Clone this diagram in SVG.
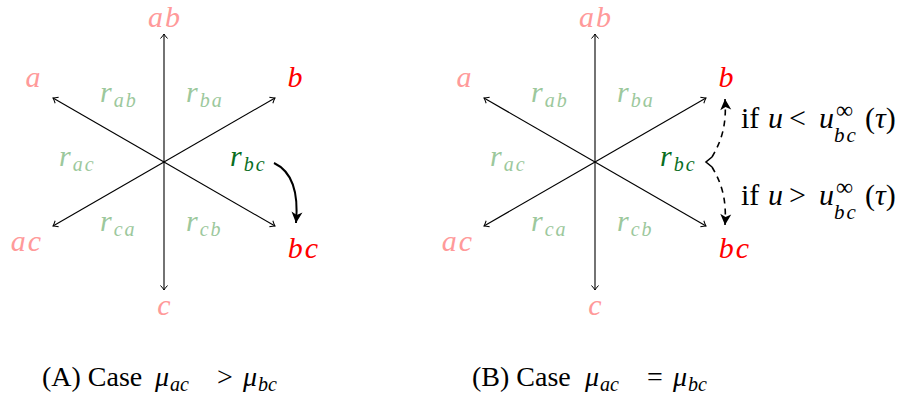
<svg xmlns="http://www.w3.org/2000/svg" width="907" height="401" viewBox="0 0 907 401" font-family="'Liberation Serif', serif">
<style>
.ax{stroke:#000;stroke-width:1.1;fill:none;marker-end:url(#op)}
.m{font-style:italic;font-size:30px;letter-spacing:2px}
.mid{text-anchor:middle}
.pk{fill:#ff9a9a}
.rd{fill:#ff0000}
.lg{fill:#9cc89c}
.dg{fill:#0a6e1e}
.sub{font-size:20px;letter-spacing:2px}
.t{font-size:30px;fill:#000}
.c{font-size:28px;fill:#000}
.i{font-style:italic}
.s{font-size:20px}
.inf{font-size:24px}
.bs{font-size:21px;font-style:italic;letter-spacing:2px}
</style>
<defs>
<marker id="op" markerUnits="userSpaceOnUse" markerWidth="12" markerHeight="12" viewBox="-6 -6 12 12" refX="0" refY="0" orient="auto">
<path d="M-4.5,-3.5 Q-1.5,-0.8 0,0 Q-1.5,0.8 -4.5,3.5" fill="none" stroke="#000" stroke-width="1"/>
</marker>
<marker id="st" markerUnits="userSpaceOnUse" markerWidth="16" markerHeight="16" viewBox="-12 -8 16 16" refX="0" refY="0" orient="auto">
<path d="M0,0 L-11,-5.5 L-8,0 L-11,5.5 Z" fill="#000"/>
</marker>
</defs>
<rect width="907" height="401" fill="#fff"/>

<g id="connectors">
<g id="axesA">
<line class="ax" x1="164" y1="162" x2="164" y2="34"/>
<line class="ax" x1="164" y1="162" x2="53" y2="98"/>
<line class="ax" x1="164" y1="162" x2="275" y2="98"/>
<line class="ax" x1="164" y1="162" x2="53" y2="226"/>
<line class="ax" x1="164" y1="162" x2="275" y2="226"/>
<line class="ax" x1="164" y1="162" x2="164" y2="290"/>
</g>
<path d="M274,163 C291,171 299,190 296,223" fill="none" stroke="#000" stroke-width="2" marker-end="url(#st)"/>
<g id="axesB">
<line class="ax" x1="595" y1="162" x2="595" y2="34"/>
<line class="ax" x1="595" y1="162" x2="484" y2="98"/>
<line class="ax" x1="595" y1="162" x2="706" y2="98"/>
<line class="ax" x1="595" y1="162" x2="484" y2="226"/>
<line class="ax" x1="595" y1="162" x2="706" y2="226"/>
<line class="ax" x1="595" y1="162" x2="595" y2="290"/>
</g>
<path d="M712,157 L706,162 L712,167" fill="none" stroke="#000" stroke-width="1.6"/>
<path d="M712,157 C720,143 727,128 725,99" fill="none" stroke="#000" stroke-width="1.6" stroke-dasharray="6,5" marker-end="url(#st)"/>
<path d="M712,167 C720,181 727,196 725,225" fill="none" stroke="#000" stroke-width="1.6" stroke-dasharray="6,5" marker-end="url(#st)"/>
</g>

<g id="diagramA">
<g id="A-ab"><text class="m mid pk" x="165" y="27">ab</text></g>
<g id="A-a"><text class="m mid pk" x="34" y="87">a</text></g>
<g id="A-b"><text class="m mid rd" x="296" y="87">b</text></g>
<g id="A-ac"><text class="m mid pk" x="27" y="251">ac</text></g>
<g id="A-bc"><text class="m mid rd" x="304" y="258">bc</text></g>
<g id="A-c"><text class="m mid pk" x="165" y="315">c</text></g>
<g id="A-rab"><text class="m lg" x="100" y="102">r<tspan class="sub" dy="5">ab</tspan></text></g>
<g id="A-rba"><text class="m lg" x="186" y="102">r<tspan class="sub" dy="5">ba</tspan></text></g>
<g id="A-rac"><text class="m lg" x="59" y="166">r<tspan class="sub" dy="5">ac</tspan></text></g>
<g id="A-rbc"><text class="m dg" x="230" y="166">r<tspan class="sub" dy="5">bc</tspan></text></g>
<g id="A-rca"><text class="m lg" x="100" y="231">r<tspan class="sub" dy="5">ca</tspan></text></g>
<g id="A-rcb"><text class="m lg" x="186" y="231">r<tspan class="sub" dy="5">cb</tspan></text></g>
</g>

<g id="diagramB">
<g id="B-ab"><text class="m mid pk" x="596" y="27">ab</text></g>
<g id="B-a"><text class="m mid pk" x="465" y="87">a</text></g>
<g id="B-b"><text class="m mid rd" x="727" y="87">b</text></g>
<g id="B-ac"><text class="m mid pk" x="458" y="251">ac</text></g>
<g id="B-bc"><text class="m mid rd" x="735" y="258">bc</text></g>
<g id="B-c"><text class="m mid pk" x="596" y="315">c</text></g>
<g id="B-rab"><text class="m lg" x="531" y="102">r<tspan class="sub" dy="5">ab</tspan></text></g>
<g id="B-rba"><text class="m lg" x="617" y="102">r<tspan class="sub" dy="5">ba</tspan></text></g>
<g id="B-rac"><text class="m lg" x="490" y="166">r<tspan class="sub" dy="5">ac</tspan></text></g>
<g id="B-rbc"><text class="m dg" x="660" y="166">r<tspan class="sub" dy="5">bc</tspan></text></g>
<g id="B-rca"><text class="m lg" x="531" y="231">r<tspan class="sub" dy="5">ca</tspan></text></g>
<g id="B-rcb"><text class="m lg" x="617" y="231">r<tspan class="sub" dy="5">cb</tspan></text></g>
<g id="cond-lt">
<text class="t" y="128"><tspan x="741">if</tspan><tspan class="i" x="768">u</tspan><tspan x="789">&lt;</tspan><tspan class="i" x="819">u</tspan><tspan x="836" y="118" class="inf">∞</tspan><tspan x="834" y="142" class="bs">bc</tspan><tspan x="865" y="128">(</tspan><tspan class="i">τ</tspan><tspan>)</tspan></text>
</g>
<g id="cond-gt">
<text class="t" y="205"><tspan x="741">if</tspan><tspan class="i" x="768">u</tspan><tspan x="789">&gt;</tspan><tspan class="i" x="819">u</tspan><tspan x="836" y="195" class="inf">∞</tspan><tspan x="834" y="219" class="bs">bc</tspan><tspan x="865" y="205">(</tspan><tspan class="i">τ</tspan><tspan>)</tspan></text>
</g>
</g>

<g id="captions">
<text class="c" y="386"><tspan x="42">(A) Case</tspan><tspan class="i" x="155">μ</tspan><tspan class="i s" x="170" dy="5">ac</tspan><tspan x="217" y="386">&gt;</tspan><tspan class="i" x="243">μ</tspan><tspan class="i s" x="258" dy="5">bc</tspan></text>
<text class="c" y="386"><tspan x="472">(B) Case</tspan><tspan class="i" x="585">μ</tspan><tspan class="i s" x="600" dy="5">ac</tspan><tspan x="647" y="386">=</tspan><tspan class="i" x="673">μ</tspan><tspan class="i s" x="688" dy="5">bc</tspan></text>
</g>
</svg>
